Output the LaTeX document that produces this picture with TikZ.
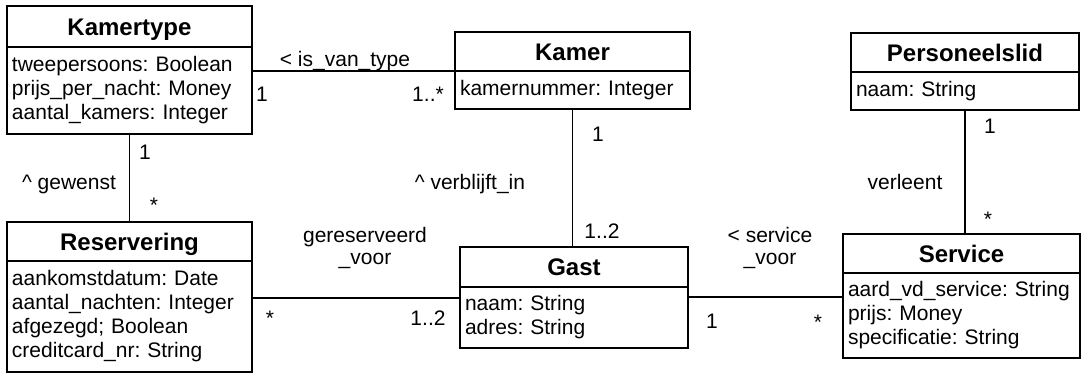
\documentclass[tikz,border=0pt]{standalone}
\usepackage{fontspec}
\setmainfont{Liberation Sans}
\usetikzlibrary{positioning}
\frenchspacing

\tikzset{
  klasse/.style={draw, line width=2pt, inner sep=0pt, outer sep=0pt, anchor=north west},
  kop/.style={klasse, font=\fontsize{24}{26}\selectfont\bfseries, text height=17.2pt, text depth=0pt},
  attr/.style={klasse, font=\fontsize{21}{24}\selectfont, align=left, inner xsep=5pt},
  lbl/.style={font=\fontsize{21}{22}\selectfont, anchor=base, inner sep=0pt, align=center},
  assoc/.style={line width=1.6pt}
}

\begin{document}
\begin{tikzpicture}[x=1pt,y=-1pt]
\useasboundingbox (0,0) rectangle (1082,374);

\node[kop, minimum width=245pt, minimum height=41pt] (kamertype) at (7,6) {Kamertype};
\node[attr, text width=235pt, minimum height=87pt, below=0pt of kamertype] (kamertype-at)
  {tweepersoons: Boolean\\prijs\_per\_nacht: Money\\aantal\_kamers: Integer};

\node[kop, minimum width=235pt, minimum height=39pt] (kamer) at (455,32) {Kamer};
\node[attr, text width=225pt, minimum height=38pt, below=0pt of kamer] (kamer-at)
  {kamernummer: Integer};

\node[kop, minimum width=228pt, minimum height=39pt] (personeelslid) at (851,33) {Personeelslid};
\node[attr, text width=218pt, minimum height=38pt, below=0pt of personeelslid] (personeelslid-at)
  {naam: String};

\node[kop, minimum width=245pt, minimum height=39pt] (reservering) at (7,222) {Reservering};
\node[attr, text width=235pt, minimum height=111pt, below=0pt of reservering] (reservering-at)
  {aankomstdatum: Date\\aantal\_nachten: Integer\\afgezegd; Boolean\\creditcard\_nr: String};

\node[kop, minimum width=228pt, minimum height=40pt] (gast) at (460,247) {Gast};
\node[attr, text width=218pt, minimum height=61pt, below=0pt of gast] (gast-at)
  {naam: String\\adres: String};

\node[kop, minimum width=237pt, minimum height=39pt] (service) at (843,234) {Service};
\node[attr, text width=227pt, minimum height=85pt, below=0pt of service] (service-at)
  {aard\_vd\_service: String\\prijs: Money\\specificatie: String};

\coordinate (gast-l) at ([yshift=-11pt]gast.south west);
\coordinate (gast-r) at ([yshift=-10pt]gast.south east);

\draw[assoc] (kamertype-at.east |- kamer.south west) -- (kamer.south west);
\draw[assoc] (kamertype-at.south) -- (reservering.north);
\draw[assoc] (kamer-at.south) -- (kamer-at.south |- gast.north);
\draw[assoc] (personeelslid-at.south) -- (personeelslid-at.south |- service.north);
\draw[assoc] (reservering-at.east |- gast-l) -- (gast-l);
\draw[assoc] (gast-r) -- (gast-r -| service-at.west);

\node[lbl] (is-van-type) at (345,67) {< is\_van\_type};
\node[lbl] (kt-een) at (262,102) {1};
\node[lbl] (k-veel) at (428,102) {1..*};
\node[lbl] (gewenst) at (69,190) {\textasciicircum\ gewenst};
\node[lbl] (kt-een-b) at (145,160) {1};
\node[lbl] (r-veel) at (154,213) {*};
\node[lbl] (verblijft-in) at (470,190) {\textasciicircum\ verblijft\_in};
\node[lbl] (k-een) at (598,142) {1};
\node[lbl] (g-twee) at (602,239) {1..2};
\node[lbl] (verleent) at (905,190) {verleent};
\node[lbl] (p-een) at (990,134) {1};
\node[lbl] (s-veel) at (988,227) {*};
\node[lbl] (gereserveerd) at (365,265) {gereserveerd\\\_voor};
\node[lbl] (r-veel-b) at (270,325) {*};
\node[lbl] (g-twee-b) at (428,325) {1..2};
\node[lbl] (service-voor) at (770,265) {< service\\\_voor};
\node[lbl] (g-een) at (712,328) {1};
\node[lbl] (s-veel-b) at (818,329) {*};
\end{tikzpicture}
\end{document}
